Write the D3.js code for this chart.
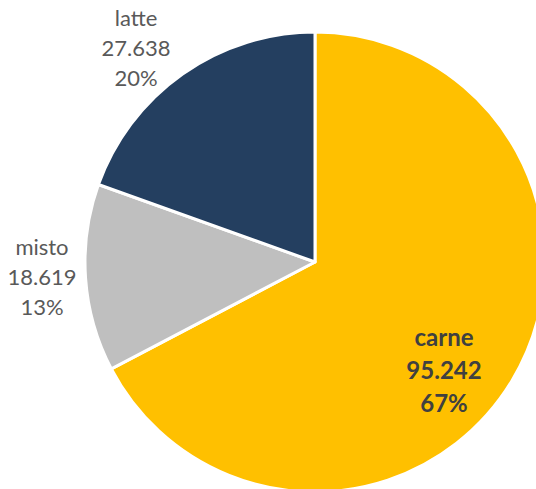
<!DOCTYPE html>
<html>
<head>
<meta charset="utf-8">
<script src="https://cdn.jsdelivr.net/npm/d3@7"></script>
<style>
  html, body { margin: 0; padding: 0; background: #fff; }
  svg { display: block; }
  text { font-family: "Lato", "DejaVu Sans", sans-serif; }
</style>
</head>
<body>
<svg id="chart" width="536" height="489"></svg>
<script>
// Production by category
const categories = ["carne", "misto", "latte"];
const values = [95.242, 18.619, 27.638];
const valueLabels = ["95.242", "18.619", "27.638"];
const percentLabels = ["67%", "13%", "20%"];
const colors = ["#FFC000", "#BFBFBF", "#243F60"];

const width = 536, height = 489;
const cx = 315, cy = 262, radius = 230;

// Label centres (middle line), font size and line spacing per slice
const labelPos = {
  carne: { x: 444, y: 371, size: 24, lh: 33, weight: "bold", fill: "#404040" },
  misto: { x: 42, y: 277, size: 22, lh: 30, weight: "normal", fill: "#595959" },
  latte: { x: 136, y: 48, size: 22, lh: 30, weight: "normal", fill: "#595959" }
};

const svg = d3.select("#chart");
const g = svg.append("g").attr("transform", `translate(${cx},${cy})`);

const data = categories.map((c, i) => ({ name: c, value: values[i], vl: valueLabels[i], pl: percentLabels[i], color: colors[i] }));

const pie = d3.pie().sort(null).value(d => d.value);
const arc = d3.arc().innerRadius(0).outerRadius(radius);

g.selectAll("path")
  .data(pie(data))
  .join("path")
  .attr("d", arc)
  .attr("fill", d => d.data.color)
  .attr("stroke", "#fff")
  .attr("stroke-width", 3)
  .attr("stroke-linejoin", "round");

const labels = svg.selectAll("text.lbl")
  .data(data)
  .join("text")
  .attr("class", "lbl")
  .attr("text-anchor", "middle")
  .attr("font-size", d => labelPos[d.name].size)
  .attr("fill", d => labelPos[d.name].fill)
  .attr("font-weight", d => labelPos[d.name].weight);

labels.each(function(d) {
  const p = labelPos[d.name];
  const t = d3.select(this);
  [d.name, d.vl, d.pl].forEach((s, i) => {
    t.append("tspan")
      .attr("x", p.x)
      .attr("y", p.y + (i - 1) * p.lh)
      .attr("dy", "0.35em")
      .text(s);
  });
});
</script>
</body>
</html>
